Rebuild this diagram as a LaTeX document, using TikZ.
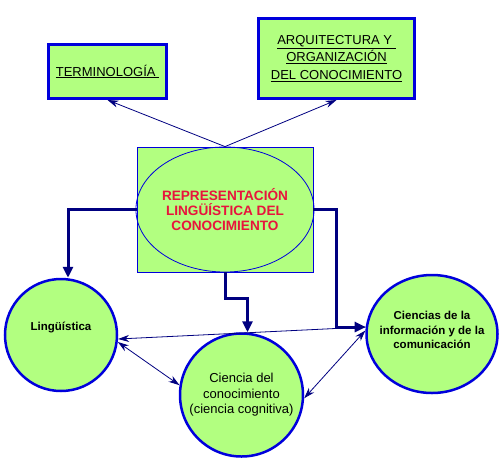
\documentclass[tikz,border=0pt]{standalone}
\usepackage{fontspec}
\setmainfont{Liberation Sans}
\usetikzlibrary{arrows.meta,shapes.geometric}
\definecolor{boxgreen}{RGB}{178,255,128}
\definecolor{boxblue}{RGB}{0,0,220}
\definecolor{arrownavy}{RGB}{0,0,128}
\definecolor{titlered}{RGB}{232,20,60}

\begin{document}
\begin{tikzpicture}[x=1pt,y=-1pt]
    \useasboundingbox (0,0) rectangle (503,472);
    \begin{scope}[every node/.style={rectangle,draw=boxblue,line width=3pt,fill=boxgreen,align=center,font=\fontsize{13}{17.5}\selectfont}]
        \node (term) [minimum width=118pt,minimum height=54pt] at (107.5,71.5) {\underline{TERMINOLOGÍA\ }};
        \node (arq) [minimum width=156pt,minimum height=80pt] at (336.5,58.5) {\underline{ARQUITECTURA Y\ }\\ \underline{ORGANIZACIÓN}\\ \underline{DEL CONOCIMIENTO}};
    \end{scope}
    \node (main) [rectangle,draw=boxblue,line width=0.8pt,fill=boxgreen,minimum width=176pt,minimum height=125pt] at (225,209.5) {};
    \node (rep) [ellipse,draw=boxblue,line width=0.8pt,inner sep=0pt,minimum width=176pt,minimum height=125pt,align=center,text=titlered,font=\bfseries\fontsize{13.6}{15}\selectfont] at (main.center) {REPRESENTACIÓN\\ LINGÜÍSTICA DEL\\ CONOCIMIENTO};
    \begin{scope}[every node/.style={draw=boxblue,line width=2.5pt,fill=boxgreen,inner sep=0pt}]
        \node (ling) [circle,minimum size=112pt] at (61,335) {};
        \node (cdc) [circle,minimum size=123pt] at (241.5,395) {};
        \node (cic) [ellipse,minimum width=131pt,minimum height=118pt] at (432,334) {};
    \end{scope}
    \begin{scope}[every node/.style={align=center,font=\bfseries\fontsize{11.5}{14.5}\selectfont}]
        \node (lingtxt) at ([yshift=8pt]ling.center) {Lingüística};
        \node (cdctxt) [font=\fontsize{13}{15.5}\selectfont] at (cdc.center) {Ciencia del\\ conocimiento\\ (ciencia cognitiva)};
        \node (cictxt) at ([yshift=4pt]cic.center) {Ciencias de la\\ información y de la\\ comunicación};
    \end{scope}
    \begin{scope}[every edge/.style={draw,arrownavy,line width=0.8pt},>={Stealth[length=11pt,width=7pt]}]
        \path
            (main.north) edge[->] (term.south)
            (main.north) edge[->] (arq.south)
            (cic.174) edge[->] (ling.-4)
            (ling.-7) edge[<->] (cdc.171)
            (cdc.-3) edge[<->] (cic.177);
    \end{scope}
    \begin{scope}[arrownavy,line width=3pt,-{Triangle[length=11pt,width=10pt]}]
        \draw (main.west) -| ([xshift=7pt]ling.north);
        \draw (main.south) -- ++(0,26) -| ([xshift=6pt]cdc.north);
        \draw (main.east) -- ++(23,0) |- (cic.174);
    \end{scope}
\end{tikzpicture}
\end{document}
